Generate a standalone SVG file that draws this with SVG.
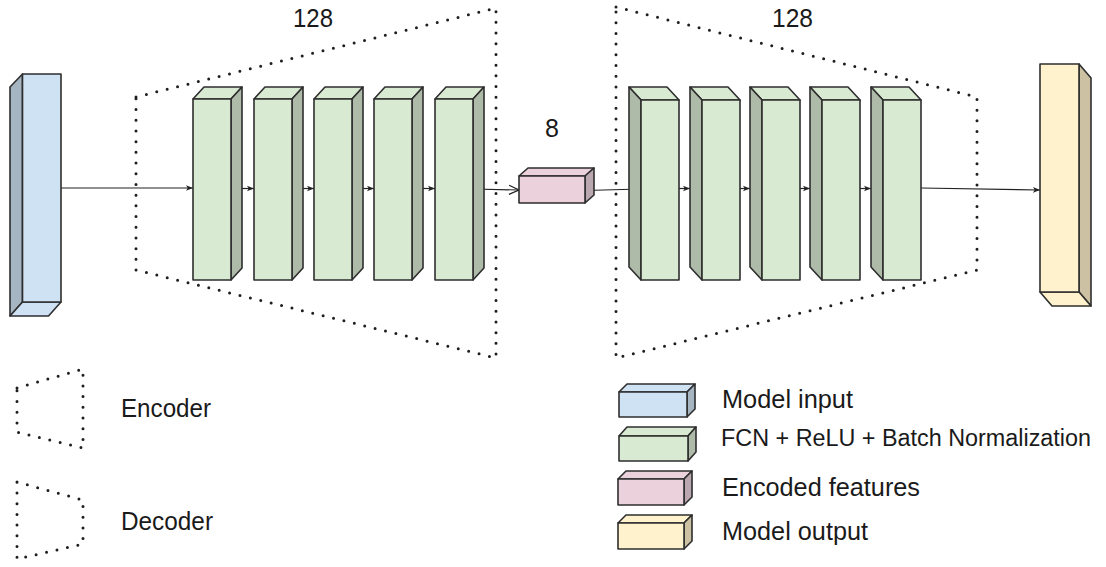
<svg xmlns="http://www.w3.org/2000/svg" width="1106" height="567" viewBox="0 0 1106 567">
  <defs>
    <style>
      .lbl { font-family: "Liberation Sans", Arial, sans-serif; font-size: 25px; fill: #1a1a1a; }
      .lbl-long { font-size: 23px; }
      .edge { stroke: #2e2e2e; stroke-width: 1.6; stroke-linejoin: round; }
      .blue-f { fill: #cfe2f3; } .blue-s { fill: #a6b5c2; }
      .green-f { fill: #d9ead3; } .green-s { fill: #aebba9; }
      .pink-f { fill: #ead1dc; } .pink-s { fill: #bba7b0; }
      .yellow-f { fill: #fff2cc; } .yellow-s { fill: #ccc2a3; }
      .dots { fill: none; stroke: #1e1e1e; stroke-width: 3; stroke-dasharray: 0 10.7; stroke-linecap: round; stroke-linejoin: round; }
      .conn { fill: none; stroke: #222222; stroke-width: 1.2; }
    </style>
    <marker id="arrow" viewBox="0 0 10 10" refX="10" refY="5" markerWidth="7" markerHeight="7" markerUnits="userSpaceOnUse" orient="auto">
      <path d="M0,1 L10,5 L0,9 L2.5,5 Z" fill="#222222"/>
    </marker>
    <marker id="open" viewBox="0 0 12 12" refX="11" refY="6" markerWidth="12" markerHeight="12" markerUnits="userSpaceOnUse" orient="auto">
      <path d="M1,1.5 L11,6 L1,10.5" fill="none" stroke="#222222" stroke-width="1.3"/>
    </marker>
  </defs>

  <!-- dotted outlines of encoder / decoder stages -->
  <g id="encoder-frame">
    <polygon class="dots" points="136,97 496,8 496,358 136,270"/>
  </g>
  <g id="decoder-frame">
    <polygon class="dots" points="616,7 977,97 977,270 616,358"/>
  </g>

  <!-- connectors -->
  <g id="connectors">
    <line class="conn" x1="61" y1="188" x2="193" y2="188" marker-end="url(#arrow)"/>
    <line class="conn" x1="231" y1="188.5" x2="254" y2="188.5" marker-end="url(#arrow)"/>
    <line class="conn" x1="292" y1="188.5" x2="314" y2="188.5" marker-end="url(#arrow)"/>
    <line class="conn" x1="352" y1="188.5" x2="374" y2="188.5" marker-end="url(#arrow)"/>
    <line class="conn" x1="412" y1="188.5" x2="435" y2="188.5" marker-end="url(#arrow)"/>
    <line class="conn" x1="473" y1="189" x2="519" y2="190" marker-end="url(#open)"/>
    <line class="conn" x1="585" y1="190.5" x2="641" y2="189" marker-end="url(#arrow)"/>
    <line class="conn" x1="679" y1="188.5" x2="690" y2="188.5" marker-end="url(#arrow)"/>
    <line class="conn" x1="740" y1="188.5" x2="750" y2="188.5" marker-end="url(#arrow)"/>
    <line class="conn" x1="800" y1="188.5" x2="810" y2="188.5" marker-end="url(#arrow)"/>
    <line class="conn" x1="860" y1="188.5" x2="871" y2="188.5" marker-end="url(#arrow)"/>
    <line class="conn" x1="921" y1="188" x2="1040" y2="190" marker-end="url(#arrow)"/>
  </g>

  <!-- model input -->
  <g id="input">
    <polygon class="blue-s edge" points="22.5,74 10,87 10,316 22.5,302"/>
    <polygon class="blue-f edge" points="22.5,302 10,316 48.5,316 61,302"/>
    <rect class="blue-f edge" x="22.5" y="74" width="38.5" height="228"/>
  </g>

  <!-- encoder layers -->
  <g id="enc1">
    <polygon class="green-f edge" points="193,99 204,87 242,87 231,99"/>
    <polygon class="green-s edge" points="231,99 242,87 242,268 231,280"/>
    <rect class="green-f edge" x="193" y="99" width="38" height="181"/>
  </g>
  <g id="enc2">
    <polygon class="green-f edge" points="254,99 265,87 303,87 292,99"/>
    <polygon class="green-s edge" points="292,99 303,87 303,268 292,280"/>
    <rect class="green-f edge" x="254" y="99" width="38" height="181"/>
  </g>
  <g id="enc3">
    <polygon class="green-f edge" points="314,99 325,87 363,87 352,99"/>
    <polygon class="green-s edge" points="352,99 363,87 363,268 352,280"/>
    <rect class="green-f edge" x="314" y="99" width="38" height="181"/>
  </g>
  <g id="enc4">
    <polygon class="green-f edge" points="374,99 385,87 423,87 412,99"/>
    <polygon class="green-s edge" points="412,99 423,87 423,268 412,280"/>
    <rect class="green-f edge" x="374" y="99" width="38" height="181"/>
  </g>
  <g id="enc5">
    <polygon class="green-f edge" points="435,99 446,87 484,87 473,99"/>
    <polygon class="green-s edge" points="473,99 484,87 484,268 473,280"/>
    <rect class="green-f edge" x="435" y="99" width="38" height="181"/>
  </g>

  <!-- encoded features -->
  <g id="latent">
    <polygon class="pink-f edge" points="519,176 528,168 594,168 585,176"/>
    <polygon class="pink-s edge" points="585,176 594,168 594,195 585,203"/>
    <rect class="pink-f edge" x="519" y="176" width="66" height="27"/>
  </g>

  <!-- decoder layers -->
  <g id="dec1">
    <polygon class="green-f edge" points="641,100 629,87 667,87 679,100"/>
    <polygon class="green-s edge" points="641,100 629,87 629,267 641,280"/>
    <rect class="green-f edge" x="641" y="100" width="38" height="180"/>
  </g>
  <g id="dec2">
    <polygon class="green-f edge" points="702,100 690,87 728,87 740,100"/>
    <polygon class="green-s edge" points="702,100 690,87 690,267 702,280"/>
    <rect class="green-f edge" x="702" y="100" width="38" height="180"/>
  </g>
  <g id="dec3">
    <polygon class="green-f edge" points="762,100 750,87 788,87 800,100"/>
    <polygon class="green-s edge" points="762,100 750,87 750,267 762,280"/>
    <rect class="green-f edge" x="762" y="100" width="38" height="180"/>
  </g>
  <g id="dec4">
    <polygon class="green-f edge" points="822,100 810,87 848,87 860,100"/>
    <polygon class="green-s edge" points="822,100 810,87 810,267 822,280"/>
    <rect class="green-f edge" x="822" y="100" width="38" height="180"/>
  </g>
  <g id="dec5">
    <polygon class="green-f edge" points="883,100 871,87 909,87 921,100"/>
    <polygon class="green-s edge" points="883,100 871,87 871,267 883,280"/>
    <rect class="green-f edge" x="883" y="100" width="38" height="180"/>
  </g>

  <!-- model output -->
  <g id="output">
    <polygon class="yellow-s edge" points="1079,64 1091,78 1091,306 1079,292"/>
    <polygon class="yellow-f edge" points="1040,292 1052,306 1091,306 1079,292"/>
    <rect class="yellow-f edge" x="1040" y="64" width="39" height="228"/>
  </g>

  <!-- size labels -->
  <g id="labels">
    <text class="lbl" x="293" y="27" textLength="40" lengthAdjust="spacingAndGlyphs">128</text>
    <text class="lbl" x="772" y="27" textLength="41" lengthAdjust="spacingAndGlyphs">128</text>
    <text class="lbl" x="545" y="137">8</text>
  </g>

  <!-- legend -->
  <g id="legend-encoder">
    <polygon class="dots" points="17,388 83,369 83,448 17,432"/>
    <text class="lbl" x="121" y="417" textLength="90" lengthAdjust="spacingAndGlyphs">Encoder</text>
  </g>
  <g id="legend-decoder">
    <polygon class="dots" points="17,482 83,500 83,544 17,559"/>
    <text class="lbl" x="121" y="530" textLength="92" lengthAdjust="spacingAndGlyphs">Decoder</text>
  </g>
  <g id="legend-input">
    <polygon class="blue-f edge" points="619,392 627,384 695,384 687,392"/>
    <polygon class="blue-s edge" points="687,392 695,384 695,409 687,417"/>
    <rect class="blue-f edge" x="619" y="392" width="68" height="25"/>
    <text class="lbl" x="722" y="408" textLength="131" lengthAdjust="spacingAndGlyphs">Model input</text>
  </g>
  <g id="legend-fcn">
    <polygon class="green-f edge" points="619,436 627,427 696,427 688,436"/>
    <polygon class="green-s edge" points="688,436 696,427 696,452 688,461"/>
    <rect class="green-f edge" x="619" y="436" width="69" height="25"/>
    <text class="lbl lbl-long" x="721" y="446" textLength="370" lengthAdjust="spacingAndGlyphs">FCN + ReLU + Batch Normalization</text>
  </g>
  <g id="legend-latent">
    <polygon class="pink-f edge" points="618,479 626,471 692,471 684,479"/>
    <polygon class="pink-s edge" points="684,479 692,471 692,497 684,505"/>
    <rect class="pink-f edge" x="618" y="479" width="66" height="26"/>
    <text class="lbl" x="722" y="496" textLength="198" lengthAdjust="spacingAndGlyphs">Encoded features</text>
  </g>
  <g id="legend-output">
    <polygon class="yellow-f edge" points="618,523 626,515 692,515 684,523"/>
    <polygon class="yellow-s edge" points="684,523 692,515 692,541 684,549"/>
    <rect class="yellow-f edge" x="618" y="523" width="66" height="26"/>
    <text class="lbl" x="722" y="540" textLength="146" lengthAdjust="spacingAndGlyphs">Model output</text>
  </g>
</svg>
